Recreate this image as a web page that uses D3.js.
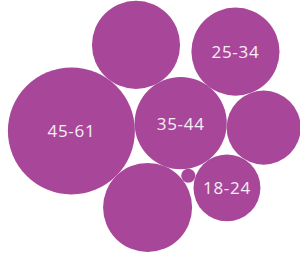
<!DOCTYPE html>
<html>
<head>
<meta charset="utf-8">
<script src="https://cdn.jsdelivr.net/npm/d3@7"></script>
<style>
  body { margin: 0; background: #fff; }
</style>
</head>
<body>
<div id="bubbles"></div>
<script>
// age groups, in the order they are packed (empty label = bubble shows no text)
var groups = ["", "35-44", "", "18-24", "45-61", "", "", "25-34"];
var counts = [5, 212, 198, 112, 403, 137, 194, 194];

var width = 300,
    height = 254;

// how the packed cluster sits in the frame
var spin = -98.2 * Math.PI / 180,
    cx = 153.9,
    cy = 115.2;

var color = "#a8479a";

var r = d3.scaleSqrt()
  .domain([0, d3.max(counts)])
  .range([0, 63.5]);

var nodes = groups.map(function(g, i) {
  return {label: g, value: counts[i], r: r(counts[i])};
});

d3.packSiblings(nodes);

// flip + turn the packed layout, then move it into place
nodes.forEach(function(d) {
  var x = d.x, y = d.y;
  d.px = cx + Math.cos(spin) * x + Math.sin(spin) * y;
  d.py = cy + Math.sin(spin) * x - Math.cos(spin) * y;
});

var svg = d3.select("#bubbles")
  .append("svg")
    .attr("width", width)
    .attr("height", height);

svg.selectAll("circle")
  .data(nodes)
  .enter()
  .append("circle")
    .attr("cx", function(d) { return d.px; })
    .attr("cy", function(d) { return d.py; })
    .attr("r", function(d) { return d.r; })
    .attr("fill", color);

svg.selectAll("text")
  .data(nodes.filter(function(d) { return d.label; }))
  .enter()
  .append("text")
    .attr("x", function(d) { return d.px; })
    .attr("y", function(d) { return d.py; })
    .attr("dy", "0.38em")
    .attr("text-anchor", "middle")
    .attr("font-family", "'Open Sans', sans-serif")
    .attr("font-size", 17)
    .attr("letter-spacing", 0.7)
    .attr("fill", "#f6eef5")
    .text(function(d) { return d.label; });
</script>
</body>
</html>
